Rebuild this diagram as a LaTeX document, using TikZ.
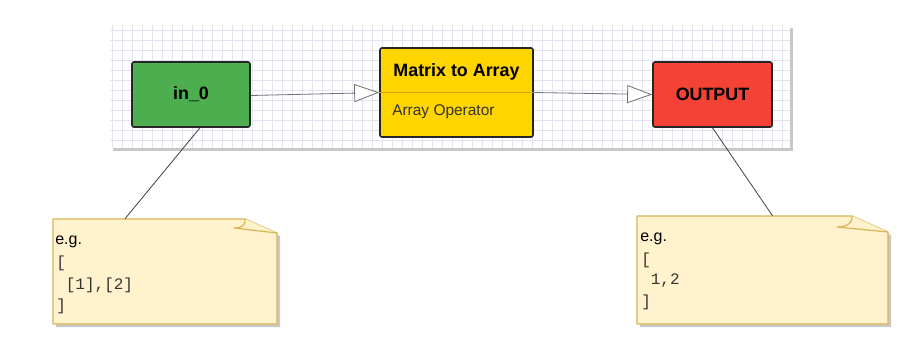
\documentclass[tikz,border=0pt]{standalone}
\usepackage{fontspec}
\setmainfont{Liberation Sans}
\newfontfamily\codefont{Liberation Mono}
\usetikzlibrary{arrows.meta}

\definecolor{ingreen}{HTML}{4CAE4F}
\definecolor{outred}{HTML}{F44336}
\definecolor{opyellow}{HTML}{FFD500}
\definecolor{divline}{HTML}{D9A000}
\definecolor{notefill}{HTML}{FFF2CC}
\definecolor{noteborder}{HTML}{D6B656}
\definecolor{gridcol}{HTML}{E2E2F0}
\definecolor{shadowcol}{HTML}{C8C8C8}
\definecolor{flowcol}{HTML}{707070}

\tikzset{
  blockbox/.style={draw=black!85, line width=1.2pt, rounded corners=1.5pt,
    font=\fontsize{13.4}{15}\selectfont\bfseries, text=black},
  flow/.style={draw=flowcol, line width=0.6pt,
    -{Triangle[open, length=18.75pt, width=13.5pt, fill=white]}},
  tether/.style={draw=black!75, line width=0.6pt},
  notebody/.style={fill=notefill, draw=noteborder, line width=0.9pt, line join=round},
  noteshadow/.style={fill=shadowcol},
  notetext/.style={anchor=west, inner sep=0pt, font=\fontsize{12}{14}\selectfont},
  codetext/.style={anchor=west, inner sep=0pt, font=\codefont\fontsize{12}{14}\selectfont, text=black!80},
  gridline/.style={draw=gridcol, line width=0.5pt},
}

\begin{document}
\begin{tikzpicture}[x=0.75pt, y=-0.75pt]
\useasboundingbox (0,0) rectangle (897,337);

% canvas with grid and drop shadow
\fill[shadowcol] (113,28) rectangle (793,151);
\fill[white] (110,25) rectangle (790,148);
\foreach \gx in {112,122,...,782} \draw[gridline] (\gx,25) -- (\gx,148);
\foreach \gy in {30,40,...,140} \draw[gridline] (110,\gy) -- (790,\gy);

% processing blocks
\node[blockbox, fill=ingreen, minimum width=88.5pt, minimum height=48.75pt] (in0) at (191,94.5) {in\_0};
\node[blockbox, fill=opyellow, minimum width=114.75pt, minimum height=66.75pt] (op) at (456.5,92.5) {};
\draw[divline, line width=0.6pt] (op.west) -- (op.east);
\node[font=\fontsize{13.4}{15}\selectfont\bfseries, text=black] (optitle) at (456.5,71.5) {Matrix to Array};
\node[font=\fontsize{11.6}{13}\selectfont, text=black!80, anchor=west, inner sep=0pt] (opsub) at (392,112) {Array Operator};
\node[blockbox, fill=outred, minimum width=89.25pt, minimum height=48.75pt] (out) at (712.5,94.5) {OUTPUT};

% data flow
\draw[flow] ([yshift=-0.75pt]in0.east) -- (op.west);
\draw[flow] (op.east) -- (out.west);

% left note
\fill[noteshadow] (56,222) -- (248,222) -- (280,236) -- (280,327) -- (56,327) -- cycle;
\draw[notebody] (53,219) -- (245,219) -- (277,233) -- (277,324) -- (53,324) -- cycle;
\draw[notebody] (245,219) .. controls (246,225) and (242,228) .. (234,228) -- (277,233);
\node[inner sep=0pt, minimum width=168pt, minimum height=78.75pt] (noteL) at (165,271.5) {};
\node[notetext] (noteLa) at (55,242) {e.g.};
\node[codetext] (noteLb) at (56,263.5) {[};
\node[codetext] (noteLc) at (56,285) {\ [1],[2]};
\node[codetext] (noteLd) at (56,306.5) {]};

% right note
\fill[noteshadow] (640,219) -- (855,219) -- (891,235) -- (891,327) -- (640,327) -- cycle;
\draw[notebody] (637,216) -- (852,216) -- (888,232) -- (888,324) -- (637,324) -- cycle;
\draw[notebody] (852,216) .. controls (853,222) and (848,227) .. (837,227) -- (888,232);
\node[inner sep=0pt, minimum width=188.25pt, minimum height=81pt] (noteR) at (762.5,270) {};
\node[notetext] (noteRa) at (640,239) {e.g.};
\node[codetext] (noteRb) at (641,260) {[};
\node[codetext] (noteRc) at (641,281) {\ 1,2};
\node[codetext] (noteRd) at (641,302.5) {]};

% note tethers
\draw[tether] ([xshift=6.75pt]in0.south) -- ([xshift=-30pt]noteL.north);
\draw[tether] (out.south) -- ([xshift=7.5pt]noteR.north);
\end{tikzpicture}
\end{document}
